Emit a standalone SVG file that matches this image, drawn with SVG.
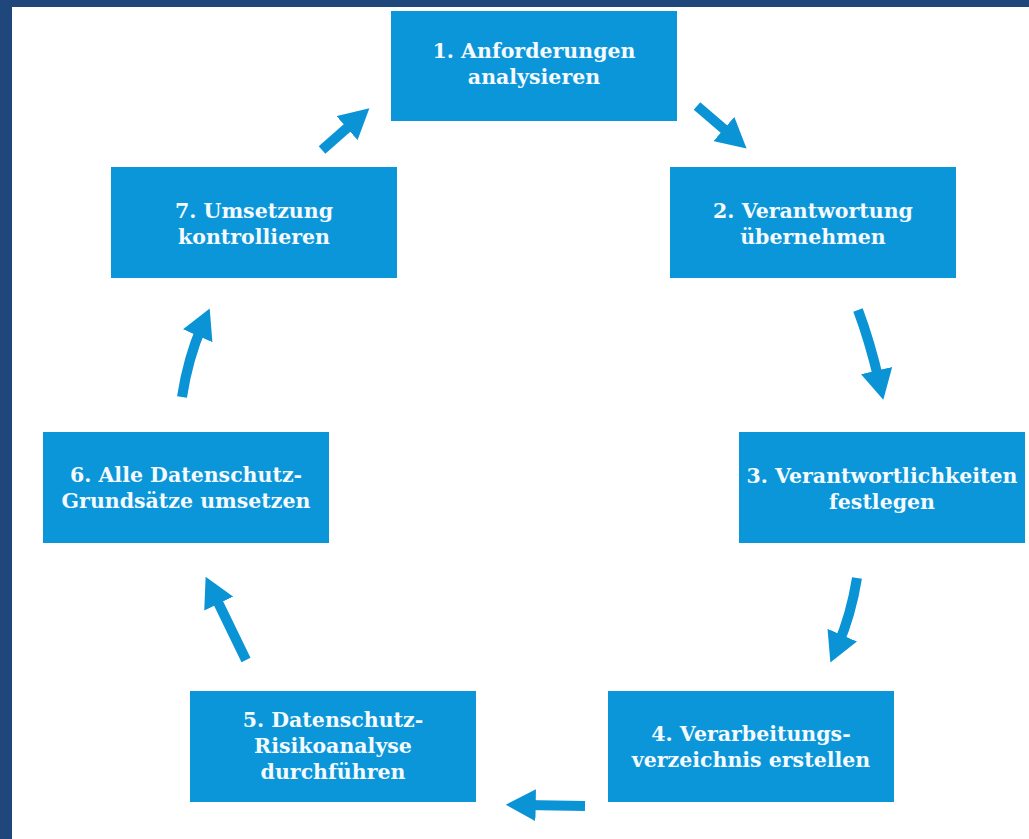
<svg xmlns="http://www.w3.org/2000/svg" width="1029" height="839" viewBox="0 0 1029 839">
<defs>
<marker id="ah" markerUnits="userSpaceOnUse" markerWidth="30" markerHeight="32" viewBox="0 0 28 30" refX="10" refY="15" orient="auto">
<path d="M0,0 L28,15 L0,30 z" fill="#0a94d6"/>
</marker>
<style>
.box{fill:#0a96d8}
.lbl{font-family:"DejaVu Serif","Liberation Serif",serif;font-weight:bold;font-size:20.5px;fill:#f4faff;text-anchor:middle}
.arr{fill:none;stroke:#0a94d6;stroke-width:10;marker-end:url(#ah)}
</style>
</defs>
<rect x="0" y="0" width="1029" height="839" fill="#1f477b"/>
<rect x="12" y="7" width="1017" height="832" fill="#ffffff"/>
<g id="connectors">
<path class="arr" d="M322,150 L355,121"/>
<path class="arr" d="M697,106 L732,136"/>
<path class="arr" d="M858,310 Q870,342 879,381"/>
<path class="arr" d="M857,578 Q851,615 838,645"/>
<path class="arr" d="M585,806 L525,805"/>
<path class="arr" d="M246,660 L214,594"/>
<path class="arr" d="M182,397 Q188,358 202,326"/>
</g>
<g id="node1"><rect class="box" x="391" y="11" width="286" height="110"/>
<text class="lbl" x="534" y="58">1. Anforderungen</text><text class="lbl" x="534" y="84">analysieren</text></g>
<g id="node2"><rect class="box" x="670" y="167" width="286" height="111"/>
<text class="lbl" x="813" y="218">2. Verantwortung</text><text class="lbl" x="813" y="244">übernehmen</text></g>
<g id="node3"><rect class="box" x="739" y="432" width="286" height="111"/>
<text class="lbl" x="882" y="483">3. Verantwortlichkeiten</text><text class="lbl" x="882" y="509">festlegen</text></g>
<g id="node4"><rect class="box" x="608" y="691" width="286" height="111"/>
<text class="lbl" x="751" y="741">4. Verarbeitungs-</text><text class="lbl" x="751" y="767">verzeichnis erstellen</text></g>
<g id="node5"><rect class="box" x="190" y="691" width="286" height="111"/>
<text class="lbl" x="333" y="727">5. Datenschutz-</text><text class="lbl" x="333" y="753">Risikoanalyse</text><text class="lbl" x="333" y="779">durchführen</text></g>
<g id="node6"><rect class="box" x="43" y="432" width="286" height="111"/>
<text class="lbl" x="186" y="482">6. Alle Datenschutz-</text><text class="lbl" x="186" y="508">Grundsätze umsetzen</text></g>
<g id="node7"><rect class="box" x="111" y="167" width="286" height="111"/>
<text class="lbl" x="254" y="218">7. Umsetzung</text><text class="lbl" x="254" y="244">kontrollieren</text></g>
</svg>
